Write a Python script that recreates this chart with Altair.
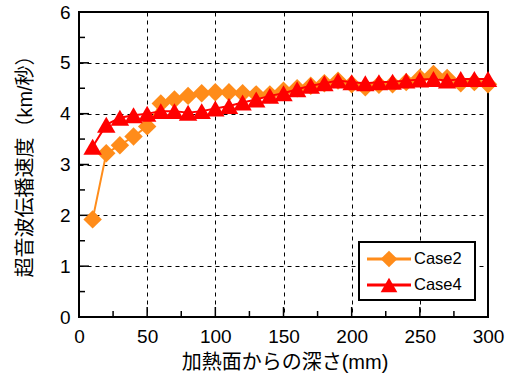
import altair as alt
import pandas as pd

# Depth from the heated surface (mm)
depth = [10, 20, 30, 40, 50, 60, 70, 80, 90, 100,
         110, 120, 130, 140, 150, 160, 170, 180, 190, 200,
         210, 220, 230, 240, 250, 260, 270, 280, 290, 300]

# Ultrasonic pulse velocity (km/s)
case2 = [1.92, 3.22, 3.38, 3.55, 3.75, 4.20, 4.28, 4.35, 4.40, 4.42,
         4.42, 4.40, 4.38, 4.38, 4.45, 4.50, 4.55, 4.60, 4.65, 4.58,
         4.52, 4.57, 4.58, 4.62, 4.70, 4.78, 4.70, 4.60, 4.62, 4.58]
case4 = [3.35, 3.78, 3.92, 3.97, 4.00, 4.05, 4.05, 4.02, 4.05, 4.10,
         4.15, 4.22, 4.28, 4.35, 4.40, 4.48, 4.55, 4.60, 4.65, 4.62,
         4.60, 4.62, 4.63, 4.65, 4.67, 4.68, 4.65, 4.68, 4.68, 4.68]

series_names = ["Case2", "Case4"]
series_colors = ["#FF8C1A", "#FF0000"]
series_shapes = ["diamond", "triangle-up"]

x_major = [50, 100, 150, 200, 250]
x_minor = [25, 75, 125, 175, 225, 275]
y_major = [1, 2, 3, 4, 5]
y_minor = [0.5, 1.5, 2.5, 3.5, 4.5, 5.5]

W, H = 409, 305
LATIN = "Liberation Sans"
CJK = "Liberation Sans, Noto Sans CJK JP"

x_scale = alt.Scale(domain=[0, 300], nice=False)
y_scale = alt.Scale(domain=[0, 6], nice=False)

x_axis = alt.Axis(values=[0, 50, 100, 150, 200, 250, 300], title="加熱面からの深さ(mm)",
                  grid=True, gridDash=[4, 4], gridColor="#000000", gridWidth=1,
                  ticks=False, domain=False, labelPadding=10, labelFlush=False,
                  labelFont=LATIN, labelFontSize=19, labelColor="#000000",
                  titleFont=CJK, titleFontSize=20, titleFontWeight="normal",
                  titleColor="#000000", titleX=W / 2 + 1, titleY=45,
                  titleBaseline="middle", titleAlign="center")
y_axis = alt.Axis(values=[0, 1, 2, 3, 4, 5, 6], title="超音波伝播速度（km/秒）",
                  grid=True, gridDash=[4, 4], gridColor="#000000", gridWidth=1,
                  ticks=False, domain=False, labelPadding=9, labelFlush=False,
                  labelFont=LATIN, labelFontSize=19, labelColor="#000000",
                  titleFont=CJK, titleFontSize=20, titleFontWeight="normal",
                  titleColor="#000000", titleX=-54, titleY=149, titleAngle=-90,
                  titleBaseline="middle", titleAlign="center")

layers = []

# Base layer carrying axes and grid
base_df = pd.DataFrame({"depth": depth, "v": case2})
layers.append(
    alt.Chart(base_df).mark_point(opacity=0).encode(
        x=alt.X("depth:Q", scale=x_scale, axis=x_axis),
        y=alt.Y("v:Q", scale=y_scale, axis=y_axis),
    )
)

# Inward tick marks
def xticks(vals, length):
    return alt.Chart(pd.DataFrame({"t": vals})).mark_rule(color="black", strokeWidth=1.5).encode(
        x=alt.X("t:Q", scale=x_scale), y=alt.value(H), y2=alt.value(H - length))

def yticks(vals, length):
    return alt.Chart(pd.DataFrame({"t": vals})).mark_rule(color="black", strokeWidth=1.5).encode(
        y=alt.Y("t:Q", scale=y_scale), x=alt.value(0), x2=alt.value(length))

layers += [xticks(x_major, 10), xticks(x_minor, 6), yticks(y_major, 10), yticks(y_minor, 6)]

# Data series
for name, vals, color, shape in zip(series_names, [case2, case4], series_colors, series_shapes):
    df = pd.DataFrame({"depth": depth, "v": vals})
    line = alt.Chart(df).mark_line(color=color, strokeWidth=2).encode(
        x=alt.X("depth:Q", scale=x_scale), y=alt.Y("v:Q", scale=y_scale))
    pts = alt.Chart(df).mark_point(shape=shape, filled=True, color=color, size=340, opacity=1).encode(
        x=alt.X("depth:Q", scale=x_scale), y=alt.Y("v:Q", scale=y_scale))
    layers += [line, pts]

# Legend box
one = pd.DataFrame({"k": [0]})
layers.append(
    alt.Chart(one).mark_rect(fill="white", stroke="black", strokeWidth=2).encode(
        x=alt.value(280), x2=alt.value(396), y=alt.value(230), y2=alt.value(288))
)
for i, (name, color, shape) in enumerate(zip(series_names, series_colors, series_shapes)):
    row_y = 247 + 26 * i
    ldf = pd.DataFrame({"name": [name]})
    layers.append(alt.Chart(ldf).mark_rule(color=color, strokeWidth=3).encode(
        x=alt.value(288), x2=alt.value(332), y=alt.value(row_y)))
    layers.append(alt.Chart(ldf).mark_point(shape=shape, filled=True, color=color, size=280, opacity=1).encode(
        x=alt.value(310), y=alt.value(row_y)))
    layers.append(alt.Chart(ldf).mark_text(align="left", baseline="middle", font=LATIN,
                                           fontSize=16.5, color="black").encode(
        x=alt.value(335), y=alt.value(row_y), text="name:N"))

chart = alt.layer(*layers).properties(
    width=W, height=H,
    autosize=alt.AutoSizeParams(type="none"),
    padding={"left": 79, "top": 12, "right": 24, "bottom": 68},
).configure_view(stroke="black", strokeWidth=2)

chart.save("out.html", embed_options={"renderer": "svg", "actions": False})
